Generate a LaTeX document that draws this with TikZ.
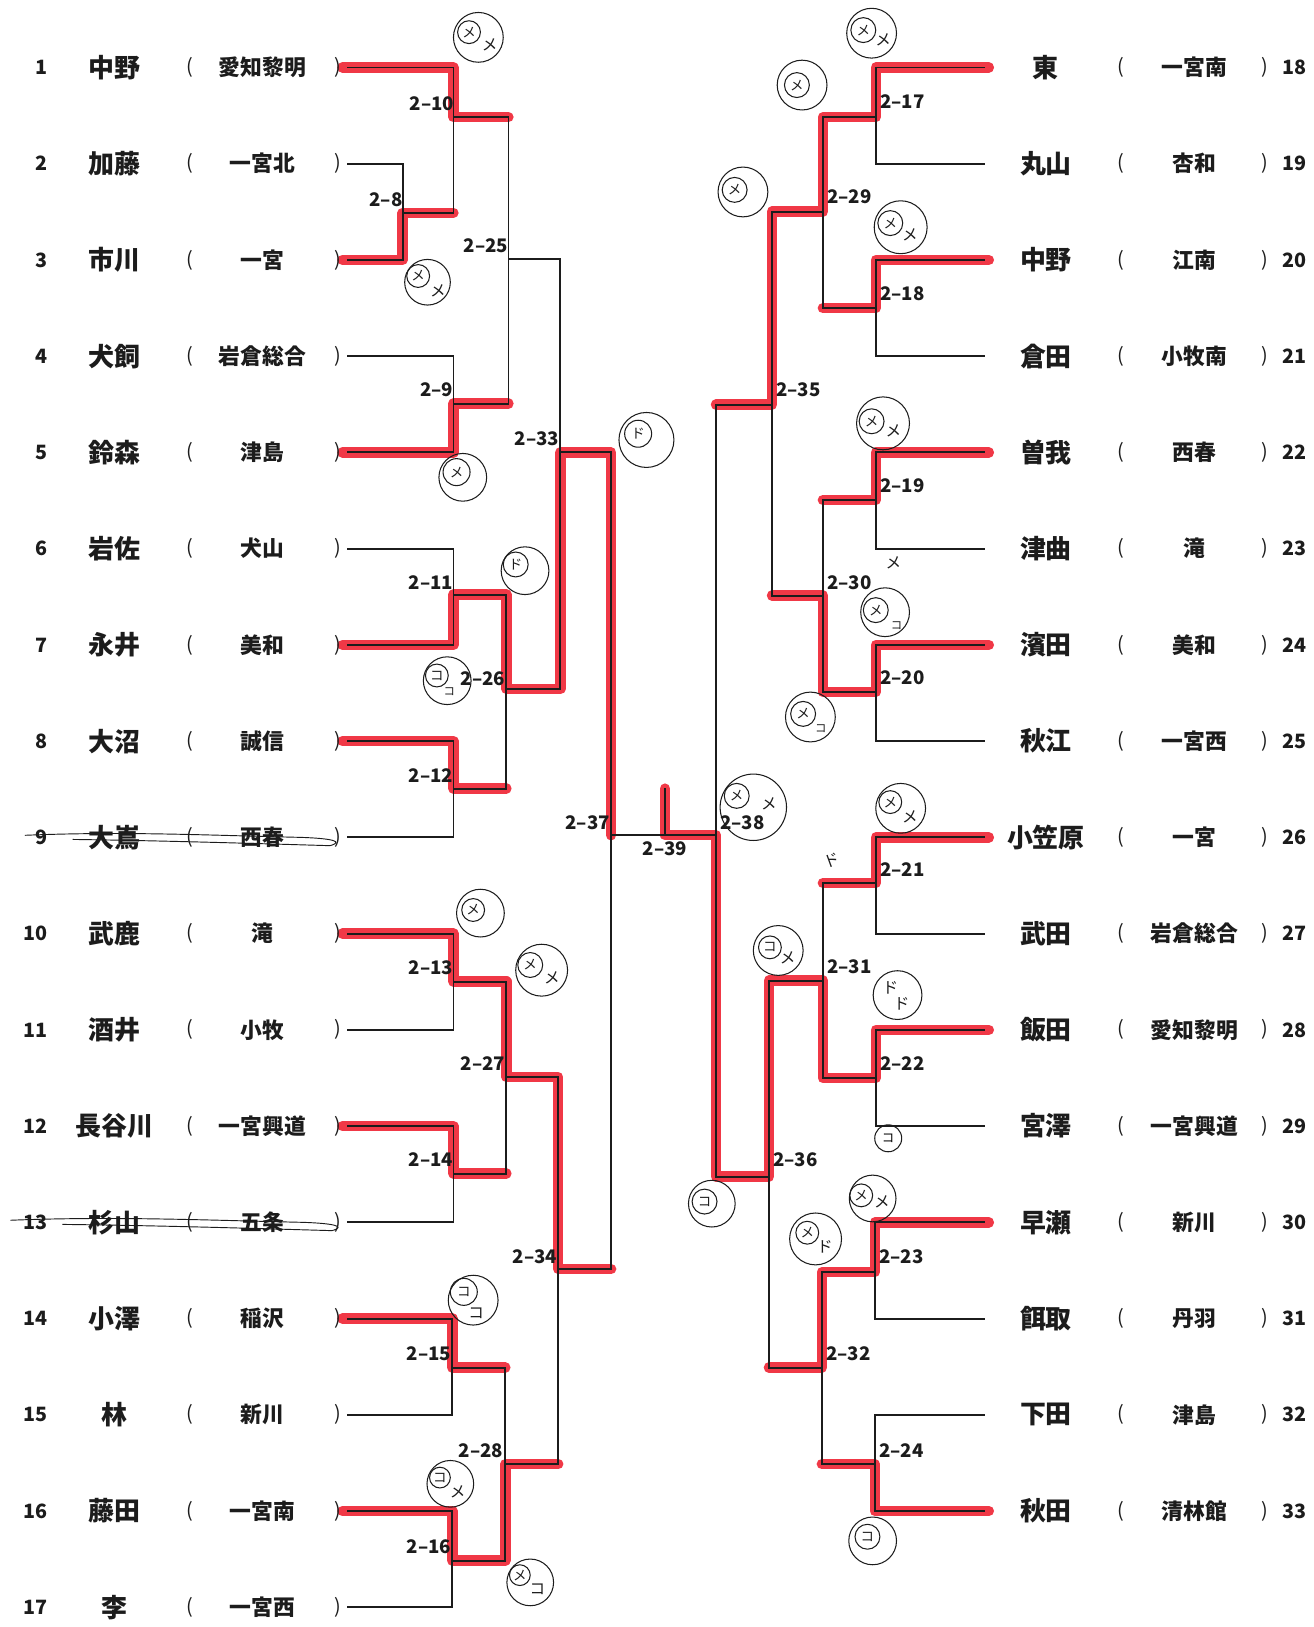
\documentclass[tikz,border=0pt]{standalone}
\usepackage{fontspec}
\setmainfont{Noto Sans CJK JP}
\definecolor{hl}{RGB}{240,56,70}
\definecolor{ink}{RGB}{28,28,28}
\newcommand\Lrow[3]{%
  \node[num, anchor=east] (ln#1) at (46,{65+(#1-1)*92.75}) {#1};
  \node[nm] (lm#1) at (110,{65+(#1-1)*92.75}) {#2};
  \node[pr] (lo#1) at (183,{65+(#1-1)*92.75}) {(};
  \node[sch] (ls#1) at (253,{65+(#1-1)*92.75}) {#3};
  \node[pr] (lc#1) at (326,{65+(#1-1)*92.75}) {)};
}
\newcommand\Rrow[4]{%
  \node[nm] (rm#2) at (1008,{65+(#1-1)*92.75}) {#3};
  \node[pr] (ro#2) at (1080,{65+(#1-1)*92.75}) {(};
  \node[sch] (rs#2) at (1151,{65+(#1-1)*92.75}) {#4};
  \node[pr] (rc#2) at (1219,{65+(#1-1)*92.75}) {)};
  \node[num, anchor=west] (rn#2) at (1236,{65+(#1-1)*92.75}) {#2};
}
\newcommand\M[6]{%
  \coordinate (#1-t) at (#2,#3);
  \coordinate (#1-b) at (#2,#4);
  \coordinate (#1-o) at (#2,#5);
  \coordinate (#1-n) at (#6,#5);
}
\begin{document}
\begin{tikzpicture}[x=1pt,y=-1pt,
  br/.style={draw=ink, line width=1.8pt, line cap=rect},
  hlp/.style={draw=hl, line width=10pt, line cap=round, line join=round},
  num/.style={inner sep=0pt, font=\fontsize{19}{19}\selectfont\bfseries, text=ink},
  nm/.style={inner sep=0pt, font=\fontsize{25}{25}\selectfont\bfseries, text=ink},
  sch/.style={inner sep=0pt, font=\fontsize{21}{21}\selectfont\bfseries, text=ink},
  pr/.style={inner sep=0pt, font=\fontsize{19}{19}\selectfont, text=ink},
  lbl/.style={inner sep=0pt, font=\fontsize{18}{18}\selectfont\bfseries, text=ink},
  hwo/.style={circle, draw=ink, line width=1pt, inner sep=0pt},
  hwi/.style={circle, draw=ink, line width=1pt, inner sep=0pt, minimum size=22pt, font=\fontsize{13}{13}\selectfont, text=ink},
  hwt/.style={inner sep=0pt, font=\fontsize{15}{15}\selectfont, text=ink},
  strk/.style={draw=ink, line width=0.9pt}
]
\path[fill=white] (0,0) rectangle (1265.4,1568);
\useasboundingbox (0,0) rectangle (1265.4,1568);

% entrant coordinates
\foreach \k in {1,...,17} {\coordinate (le\k) at (335,{65+(\k-1)*92.75});}
\foreach \k in {18,...,33} {\coordinate (re\k) at (948,{65+(\k-18)*92.75});}

% matches
\M{m8}{388}{157.75}{250.5}{205}{437}
\M{m10}{437}{65}{205}{113}{490}
\M{m9}{437}{343.25}{436}{389}{490}
\M{m25}{490}{113}{389}{250}{540}
\M{m11}{437}{528.75}{621.5}{573}{488}
\M{m12}{437}{714.25}{807}{760}{488}
\M{m26}{488}{573}{760}{664}{540}
\M{m33}{540}{250}{664}{436}{589}
\M{m13}{437}{899.75}{992.5}{946}{488}
\M{m14}{437}{1085.25}{1178}{1131}{488}
\M{m27}{488}{946}{1131}{1038}{538}
\M{m15}{436}{1270.75}{1363.5}{1318}{487}
\M{m16}{436}{1456.25}{1549}{1504}{487}
\M{m28}{487}{1318}{1504}{1411}{538}
\M{m34}{538}{1038}{1411}{1223}{589}
\M{m37}{589}{436}{1223}{805}{641}
\M{m17}{844}{65}{157.75}{113}{793}
\M{m18}{844}{250.5}{343.25}{297}{793}
\M{m29}{793}{113}{297}{204}{744}
\M{m19}{844}{436}{528.75}{482}{793}
\M{m20}{844}{621.5}{714.25}{667}{793}
\M{m30}{793}{482}{667}{574}{744}
\M{m35}{744}{204}{574}{390}{690}
\M{m21}{844}{807}{899.75}{851}{793}
\M{m22}{844}{992.5}{1085.25}{1039}{793}
\M{m31}{793}{851}{1039}{945}{741}
\M{m23}{843}{1178}{1270.75}{1226}{792}
\M{m24}{843}{1363.5}{1456.25}{1411}{792}
\M{m32}{792}{1226}{1411}{1318}{741}
\M{m36}{741}{945}{1318}{1134}{690}
\M{m38}{690}{390}{1134}{805}{641}
\coordinate (c39) at (641,805);
\coordinate (c39s) at (641,760);

% red highlights
\draw[hlp] ([xshift=-5pt]le1) -- (m10-t) -- (m10-o) -- (m10-n);
\draw[hlp] ([xshift=-5pt]le3) -- (m8-b) -- (m8-o) -- (m8-n);
\draw[hlp] ([xshift=-5pt]le5) -- (m9-b) -- (m9-o) -- (m9-n);
\draw[hlp] ([xshift=-5pt]le7) -- (m11-b) -- (m11-o) -- (m11-n) -- (m26-o) -- (m26-n) -- (m33-o) -- (m33-n) -- (m37-o);
\draw[hlp] ([xshift=-5pt]le8) -- (m12-t) -- (m12-o) -- (m12-n);
\draw[hlp] ([xshift=-5pt]le10) -- (m13-t) -- (m13-o) -- (m13-n) -- (m27-o) -- (m27-n) -- (m34-o) -- (m34-n);
\draw[hlp] ([xshift=-5pt]le12) -- (m14-t) -- (m14-o) -- (m14-n);
\draw[hlp] ([xshift=-5pt]le14) -- (m15-t) -- (m15-o) -- (m15-n);
\draw[hlp] ([xshift=-5pt]le16) -- (m16-t) -- (m16-o) -- (m16-n) -- (m28-o) -- (m28-n);
\draw[hlp] (c39s) -- (c39) -- (m38-o) -- (m36-n) -- (m36-o) -- (m36-t) -- (m31-o) -- (m31-b) -- (m22-o) -- (m22-t) -- ([xshift=5pt]re28);
\draw[hlp] ([xshift=5pt]re18) -- (m17-t) -- (m17-o) -- (m17-n) -- (m29-o) -- (m29-n) -- (m35-o) -- (m35-n);
\draw[hlp] ([xshift=5pt]re20) -- (m18-t) -- (m18-o) -- (m18-n);
\draw[hlp] ([xshift=5pt]re22) -- (m19-t) -- (m19-o) -- (m19-n);
\draw[hlp] ([xshift=5pt]re24) -- (m20-t) -- (m20-o) -- (m20-n) -- (m30-o) -- (m30-n);
\draw[hlp] ([xshift=5pt]re26) -- (m21-t) -- (m21-o) -- (m21-n);
\draw[hlp] ([xshift=5pt]re30) -- (m23-t) -- (m23-o) -- (m23-n) -- (m32-o) -- (m32-n);
\draw[hlp] ([xshift=5pt]re33) -- (m24-b) -- (m24-o) -- (m24-n);

% black bracket
\foreach \m in {m8,m10,m9,m25,m11,m12,m26,m33,m13,m14,m27,m15,m16,m28,m34,m17,m18,m29,m19,m20,m30,m35,m21,m22,m31,m23,m24,m32,m36}
  {\draw[br] (\m-t) -- (\m-b) (\m-o) -- (\m-n);}
\draw[br] (m37-t) -- (m37-b);
\draw[br] (m38-t) -- (m38-b);
\draw[br] (m37-o) -- (m38-o);
\draw[br] (c39s) -- (c39);
\foreach \k/\t in {1/m10-t,2/m8-t,3/m8-b,4/m9-t,5/m9-b,6/m11-t,7/m11-b,8/m12-t,9/m12-b,10/m13-t,11/m13-b,12/m14-t,13/m14-b,14/m15-t,15/m15-b,16/m16-t,17/m16-b}
  {\draw[br] (le\k) -- (\t);}
\foreach \k/\t in {18/m17-t,19/m17-b,20/m18-t,21/m18-b,22/m19-t,23/m19-b,24/m20-t,25/m20-b,26/m21-t,27/m21-b,28/m22-t,29/m22-b,30/m23-t,31/m23-b,32/m24-t,33/m24-b}
  {\draw[br] (re\k) -- (\t);}

% entrants
\Lrow{1}{中野}{愛知黎明}
\Lrow{2}{加藤}{一宮北}
\Lrow{3}{市川}{一宮}
\Lrow{4}{犬飼}{岩倉総合}
\Lrow{5}{鈴森}{津島}
\Lrow{6}{岩佐}{犬山}
\Lrow{7}{永井}{美和}
\Lrow{8}{大沼}{誠信}
\Lrow{9}{大嶌}{西春}
\Lrow{10}{武鹿}{滝}
\Lrow{11}{酒井}{小牧}
\Lrow{12}{長谷川}{一宮興道}
\Lrow{13}{杉山}{五条}
\Lrow{14}{小澤}{稲沢}
\Lrow{15}{林}{新川}
\Lrow{16}{藤田}{一宮南}
\Lrow{17}{李}{一宮西}
\Rrow{1}{18}{東}{一宮南}
\Rrow{2}{19}{丸山}{杏和}
\Rrow{3}{20}{中野}{江南}
\Rrow{4}{21}{倉田}{小牧南}
\Rrow{5}{22}{曽我}{西春}
\Rrow{6}{23}{津曲}{滝}
\Rrow{7}{24}{濱田}{美和}
\Rrow{8}{25}{秋江}{一宮西}
\Rrow{9}{26}{小笠原}{一宮}
\Rrow{10}{27}{武田}{岩倉総合}
\Rrow{11}{28}{飯田}{愛知黎明}
\Rrow{12}{29}{宮澤}{一宮興道}
\Rrow{13}{30}{早瀬}{新川}
\Rrow{14}{31}{餌取}{丹羽}
\Rrow{15}{32}{下田}{津島}
\Rrow{16}{33}{秋田}{清林館}

% strike-throughs
\draw[strk] (24,805) .. controls (120,801) and (200,805) .. (290,807) .. controls (320,808) and (332,811) .. (318,815) .. controls (250,813) and (150,810) .. (70,809);
\draw[strk] (10,1176) .. controls (110,1172) and (200,1176) .. (292,1178) .. controls (322,1179) and (334,1182) .. (320,1186) .. controls (250,1184) and (150,1181) .. (60,1180);

% match labels
\node[lbl, anchor=east] (l2-10) at (438,100) {2–10};
\node[lbl, anchor=east] (l2-8) at (388,192) {2–8};
\node[lbl, anchor=east] (l2-25) at (490,237) {2–25};
\node[lbl, anchor=east] (l2-9) at (437,376) {2–9};
\node[lbl, anchor=east] (l2-33) at (539,423) {2–33};
\node[lbl, anchor=east] (l2-11) at (437,561) {2–11};
\node[lbl, anchor=east] (l2-26) at (487,654) {2–26};
\node[lbl, anchor=east] (l2-12) at (437,747) {2–12};
\node[lbl, anchor=east] (l2-37) at (588,793) {2–37};
\node[lbl, anchor=east] (l2-13) at (437,933) {2–13};
\node[lbl, anchor=east] (l2-27) at (487,1025) {2–27};
\node[lbl, anchor=east] (l2-14) at (437,1118) {2–14};
\node[lbl, anchor=east] (l2-34) at (537,1211) {2–34};
\node[lbl, anchor=east] (l2-15) at (435,1305) {2–15};
\node[lbl, anchor=east] (l2-28) at (485,1398) {2–28};
\node[lbl, anchor=east] (l2-16) at (435,1491) {2–16};
\node[lbl, anchor=west] (l2-17) at (848,98) {2–17};
\node[lbl, anchor=west] (l2-18) at (848,283) {2–18};
\node[lbl, anchor=west] (l2-29) at (797,190) {2–29};
\node[lbl, anchor=west] (l2-19) at (848,468) {2–19};
\node[lbl, anchor=west] (l2-20) at (848,653) {2–20};
\node[lbl, anchor=west] (l2-30) at (797,562) {2–30};
\node[lbl, anchor=west] (l2-35) at (748,376) {2–35};
\node[lbl, anchor=west] (l2-21) at (848,838) {2–21};
\node[lbl, anchor=west] (l2-22) at (848,1025) {2–22};
\node[lbl, anchor=west] (l2-31) at (797,932) {2–31};
\node[lbl, anchor=west] (l2-23) at (847,1211) {2–23};
\node[lbl, anchor=west] (l2-24) at (847,1398) {2–24};
\node[lbl, anchor=west] (l2-32) at (796,1305) {2–32};
\node[lbl, anchor=west] (l2-36) at (745,1118) {2–36};
\node[lbl, anchor=west] (l2-38) at (694,793) {2–38};
\node[lbl] (l2-39) at (641,818) {2–39};

% handwritten marks (left)
\node[hwo, minimum size=48pt] (k1) at (461,36) {};
\node[hwi] (k1i) at (452,31) {メ};
\node[hwt] (k1t) at (472,43) {メ};
\node[hwo, minimum size=44pt] (k2) at (412,272) {};
\node[hwi] (k2i) at (403,266) {メ};
\node[hwt] (k2t) at (422,280) {メ};
\node[hwo, minimum size=46pt] (k3) at (446,460) {};
\node[hwi, minimum size=26pt] (k3i) at (440,455) {メ};
\node[hwo, minimum size=53pt] (k4) at (623,424) {};
\node[hwi, minimum size=26pt] (k4i) at (615,418) {ド};
\node[hwo, minimum size=46pt] (k5) at (506,550) {};
\node[hwi, minimum size=24pt] (k5i) at (497,544) {ド};
\node[hwo, minimum size=46pt] (k6) at (431,656) {};
\node[hwi] (k6i) at (421,651) {コ};
\node[hwt, font=\fontsize{11}{11}\selectfont] (k6t) at (433,667) {コ};
\node[hwo, minimum size=46pt] (k7) at (463,880) {};
\node[hwi] (k7i) at (456,877) {メ};
\node[hwo, minimum size=50pt] (k8) at (522,935) {};
\node[hwi, minimum size=24pt] (k8i) at (511,930) {メ};
\node[hwt] (k8t) at (532,942) {メ};
\node[hwo, minimum size=48pt] (k9) at (456,1253) {};
\node[hwi, minimum size=26pt] (k9i) at (447,1245) {コ};
\node[hwt] (k9t) at (459,1266) {コ};
\node[hwo, minimum size=45pt] (k10) at (434,1430) {};
\node[hwi, minimum size=20pt] (k10i) at (424,1424) {コ};
\node[hwt] (k10t) at (441,1438) {メ};
\node[hwo, minimum size=45pt] (k11) at (511,1525) {};
\node[hwi, minimum size=20pt] (k11i) at (501,1518) {メ};
\node[hwt] (k11t) at (518,1532) {コ};
% handwritten marks (right)
\node[hwo, minimum size=48pt] (k12) at (840,32) {};
\node[hwi, minimum size=24pt] (k12i) at (832,29) {メ};
\node[hwt] (k12t) at (851,38) {メ};
\node[hwo, minimum size=48pt] (k13) at (773,82) {};
\node[hwi, minimum size=24pt] (k13i) at (768,82) {メ};
\node[hwo, minimum size=48pt] (k14) at (716,185) {};
\node[hwi, minimum size=24pt] (k14i) at (708,183) {メ};
\node[hwo, minimum size=51pt] (k15) at (868,219) {};
\node[hwi, minimum size=24pt] (k15i) at (858,215) {メ};
\node[hwt] (k15t) at (877,226) {メ};
\node[hwo, minimum size=51pt] (k16) at (851,408) {};
\node[hwi, minimum size=24pt] (k16i) at (840,406) {メ};
\node[hwt] (k16t) at (861,415) {メ};
\node[hwt] (k17) at (861,542) {メ};
\node[hwo, minimum size=47pt] (k18) at (853,590) {};
\node[hwi, minimum size=24pt] (k18i) at (844,588) {メ};
\node[hwt, font=\fontsize{11}{11}\selectfont] (k18t) at (864,603) {コ};
\node[hwo, minimum size=48pt] (k19) at (781,691) {};
\node[hwi, minimum size=24pt] (k19i) at (774,688) {メ};
\node[hwt, font=\fontsize{11}{11}\selectfont] (k19t) at (791,702) {コ};
\node[hwo, minimum size=64pt] (k20) at (726,778) {};
\node[hwi, minimum size=24pt] (k20i) at (710,767) {メ};
\node[hwt] (k20t) at (741,775) {メ};
\node[hwo, minimum size=48pt] (k21) at (868,779) {};
\node[hwi] (k21i) at (858,773) {メ};
\node[hwt] (k21t) at (877,787) {メ};
\node[hwt, rotate=20] (k22) at (802,829) {ド};
\node[hwo, minimum size=48pt] (k23) at (750,916) {};
\node[hwi] (k23i) at (742,913) {コ};
\node[hwt] (k23t) at (759,923) {メ};
\node[hwo, minimum size=47pt] (k24) at (865,959) {};
\node[hwt] (k24a) at (858,952) {ド};
\node[hwt] (k24b) at (869,967) {ド};
\node[hwo, minimum size=26pt, font=\fontsize{12}{12}\selectfont] (k25) at (856,1097) {コ};
\node[hwo, minimum size=45pt] (k26) at (686,1160) {};
\node[hwi, minimum size=24pt] (k26i) at (679,1158) {コ};
\node[hwo, minimum size=45pt] (k27) at (841,1155) {};
\node[hwi] (k27i) at (830,1152) {メ};
\node[hwt] (k27t) at (850,1158) {メ};
\node[hwo, minimum size=50pt] (k28) at (786,1194) {};
\node[hwi] (k28i) at (778,1188) {メ};
\node[hwt] (k28t) at (795,1202) {ド};
\node[hwo, minimum size=46pt] (k29) at (841,1485) {};
\node[hwi, minimum size=24pt] (k29i) at (836,1481) {コ};
\end{tikzpicture}
\end{document}
